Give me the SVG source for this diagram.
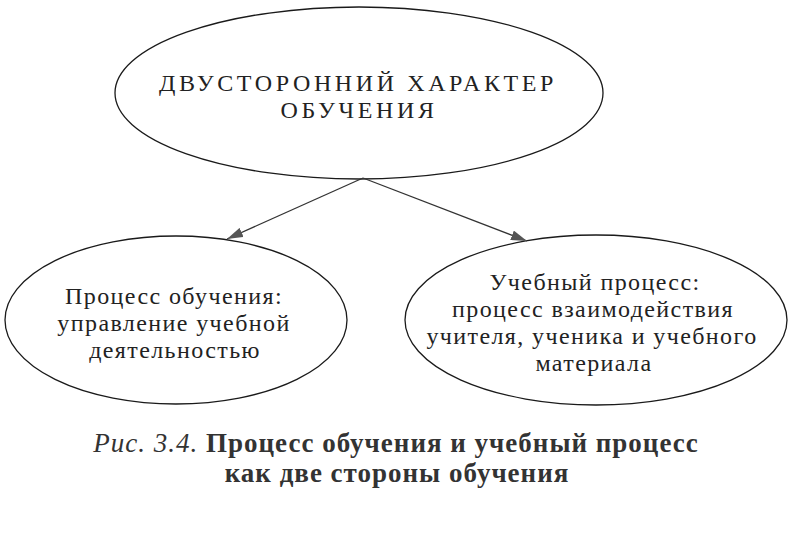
<svg xmlns="http://www.w3.org/2000/svg" width="809" height="535" viewBox="0 0 809 535">
<style>
.node ellipse{fill:none;stroke:#1a1a1a;stroke-width:1.3}
.t{font-family:"Liberation Serif",serif;font-size:24px;fill:#222;text-anchor:middle;letter-spacing:1.4px}
.cap{letter-spacing:3.6px}
.conn line{stroke:#333;stroke-width:1.3}
.caption{font-family:"Liberation Serif",serif;font-size:27px;fill:#333;text-anchor:middle;font-weight:bold;letter-spacing:1px}
</style>
<defs>
<marker id="ah" viewBox="0 0 16 10" refX="16" refY="5" markerWidth="16" markerHeight="10" markerUnits="userSpaceOnUse" orient="auto">
<path d="M0,0 L16,5 L0,10 Z" fill="#555"/>
</marker>
</defs>
<rect width="809" height="535" fill="#fff"/>
<g id="top" class="node">
<ellipse cx="359" cy="93" rx="244" ry="86"/>
<text class="t cap" x="358" y="91">ДВУСТОРОННИЙ ХАРАКТЕР</text>
<text class="t cap" x="359" y="118">ОБУЧЕНИЯ</text>
</g>
<g id="left" class="node">
<ellipse cx="176" cy="320" rx="171" ry="84"/>
<text class="t" x="174" y="304">Процесс обучения:</text>
<text class="t" x="174" y="331">управление учебной</text>
<text class="t" x="175" y="358">деятельностью</text>
</g>
<g id="right" class="node">
<ellipse cx="596" cy="320" rx="191" ry="85"/>
<text class="t" x="595" y="290">Учебный процесс:</text>
<text class="t" x="593" y="317">процесс взаимодействия</text>
<text class="t" x="592" y="344">учителя, ученика и учебного</text>
<text class="t" x="594" y="371">материала</text>
</g>
<g id="connectors" class="conn">
<line x1="363" y1="178" x2="227" y2="239" marker-end="url(#ah)"/>
<line x1="363" y1="178" x2="527" y2="241" marker-end="url(#ah)"/>
</g>
<g id="caption">
<text class="caption" x="396" y="452"><tspan font-style="italic" font-weight="normal">Рис. 3.4.</tspan> Процесс обучения и учебный процесс</text>
<text class="caption" x="397" y="482">как две стороны обучения</text>
</g>
</svg>
